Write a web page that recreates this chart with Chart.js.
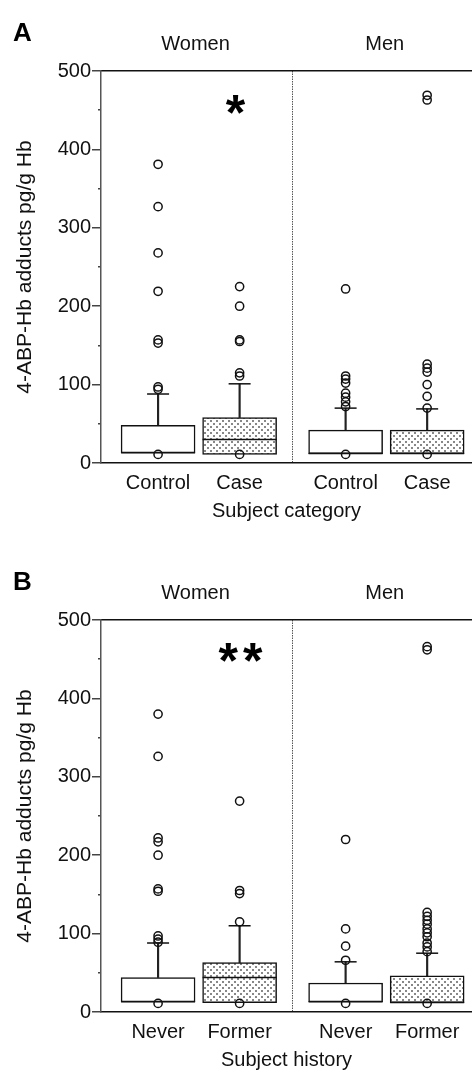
<!DOCTYPE html>
<html>
<head>
<meta charset="utf-8">
<script src="https://cdn.jsdelivr.net/npm/chart.js@4.4.1/dist/chart.umd.min.js"></script>
<style>
  html, body { margin: 0; padding: 0; background: #fff; overflow: hidden; }
  canvas { position: absolute; left: 0; }
  #chartA { top: 0; }
  #chartB { top: 549px; }
</style>
</head>
<body>
<canvas id="chartA" width="472" height="540"></canvas>
<canvas id="chartB" width="472" height="540"></canvas>
<script>
// labels
const sexGroups = ['Women', 'Men'];
const categoryLabels = ['Control', 'Case', 'Control', 'Case'];
const historyLabels = ['Never', 'Former', 'Never', 'Former'];
const yTicks = [0, 100, 200, 300, 400, 500];

// panel A - subject category (pg/g Hb)
const q1A = [13, 11, 12, 12];
const medianA = [13, 30, 12, 12];
const q3A = [48, 58, 42, 42];
const whiskerA = [88, 101, 70, 69];
const outliersA = [
  [381, 327, 268, 219, 157, 153, 97, 94, 11],
  [225, 200, 157, 155, 115, 111, 11],
  [222, 111, 107, 102, 89, 84, 78, 72, 11],
  [469, 463, 126, 121, 116, 100, 85, 70, 11]
];
const marksA = [{ text: '*', x: 1.98, y: 425 }];

// panel B - subject history (pg/g Hb)
const q1B = [13, 12, 13, 12];
const medianB = [13, 44, 13, 12];
const q3B = [44, 63, 37, 46];
const whiskerB = [88, 110, 64, 75];
const outliersB = [
  [380, 326, 222, 217, 200, 157, 154, 97, 93, 89, 11],
  [269, 155, 151, 115, 11],
  [220, 106, 84, 66, 11],
  [466, 462, 127, 122, 117, 112, 106, 101, 96, 88, 83, 77, 11]
];
const marksB = [{ text: '**', x: 2.04, y: 426 }];

// layout of the x axis (women | men)
const boxPos = [1, 2, 3.3, 4.3];
const groupPos = [1.46, 3.78];
const dividerX = 2.65;
const xMin = 0.3, xMax = 4.85;

Chart.defaults.font.family = '"Liberation Sans", Arial, sans-serif';
Chart.defaults.font.size = 20;
Chart.defaults.color = '#111';

const marksPlugin = {
  id: 'marks',
  afterDatasetsDraw(chart, args, opts) {
    const { ctx, scales: { x, y } } = chart;
    ctx.save();
    ctx.font = 'bold 50px "Liberation Sans", Arial, sans-serif';
    ctx.fillStyle = '#000';
    ctx.textAlign = 'center';
    ctx.textBaseline = 'alphabetic';
    ctx.letterSpacing = '5px';
    opts.items.forEach(m => ctx.fillText(m.text, x.getPixelForValue(m.x), y.getPixelForValue(m.y)));
    ctx.restore();
  }
};

function stipple(ctx) {
  const c = document.createElement('canvas');
  c.width = 6; c.height = 6;
  const g = c.getContext('2d');
  g.fillStyle = '#fff';
  g.fillRect(0, 0, 6, 6);
  g.fillStyle = '#888';
  g.fillRect(0, 0, 2, 2);
  g.fillRect(3, 3, 2, 2);
  return ctx.createPattern(c, 'repeat');
}

// keep chart area flush with the canvas edges
function noSidePad(s) {
  s.paddingLeft = 0;
  s.paddingRight = 0;
}

function makeChart(id, letter, labels, q1, med, q3, whisk, outliers, xTitle, marks) {
  const canvas = document.getElementById(id);
  const dots = stipple(canvas.getContext('2d'));
  const pts = [];
  outliers.forEach((list, i) => list.forEach(v => pts.push({ x: boxPos[i], y: v })));

  return new Chart(canvas, {
    type: 'bar',
    data: {
      datasets: [
        { type: 'scatter', data: pts, pointStyle: 'circle', radius: 4.1, borderWidth: 1.5,
          borderColor: '#111', backgroundColor: 'rgba(0,0,0,0)' },
        { type: 'scatter', data: med.map((v, i) => ({ x: boxPos[i], y: v })), pointStyle: 'line',
          radius: 37, borderWidth: 1.5, borderColor: '#111' },
        { type: 'scatter', data: whisk.map((v, i) => ({ x: boxPos[i], y: v })), pointStyle: 'line',
          radius: 11, borderWidth: 1.5, borderColor: '#111' },
        { data: q1.map((v, i) => ({ x: boxPos[i], y: [v, q3[i]] })),
          backgroundColor: labels.map((l, i) => i % 2 ? dots : '#fff'),
          borderColor: '#111', borderWidth: 1.5, borderSkipped: false, barThickness: 74, grouped: false },
        { data: q3.map((v, i) => ({ x: boxPos[i], y: [v, whisk[i]] })),
          backgroundColor: '#222', borderWidth: 0, barThickness: 1.5, grouped: false }
      ]
    },
    options: {
      responsive: false,
      animation: false,
      events: [],
      layout: { autoPadding: false, padding: { left: 13, top: 0, right: 0, bottom: 17 } },
      plugins: {
        legend: { display: false },
        tooltip: { enabled: false },
        title: { display: true, text: letter, align: 'start', color: '#000',
          font: { size: 26, weight: 'bold', lineHeight: 0.1 }, padding: { top: 32.2, bottom: 0 } },
        marks: { items: marks }
      },
      scales: {
        x: {
          type: 'linear', position: 'bottom', min: xMin, max: xMax, offset: false,
          afterBuildTicks: s => { s.ticks = boxPos.concat([dividerX]).map(v => ({ value: v })); },
          ticks: { autoSkip: false, maxRotation: 0, padding: 8,
            callback: v => { const i = boxPos.indexOf(v); return i < 0 ? '' : labels[i]; } },
          grid: { offset: false, drawTicks: false, lineWidth: 1,
            color: c => (c.tick && c.tick.value === dividerX) ? '#555' : 'rgba(0,0,0,0)' },
          border: { display: true, color: '#111', width: 1.5, dash: [1.5, 1] },
          title: { display: true, text: xTitle, padding: 0 },
          afterFit: s => { s.height = 60; noSidePad(s); }
        },
        top: {
          type: 'linear', position: 'top', min: xMin, max: xMax, offset: false,
          afterBuildTicks: s => { s.ticks = groupPos.map(v => ({ value: v })); },
          ticks: { autoSkip: false, maxRotation: 0, padding: 17, font: { size: 20, lineHeight: 1 },
            callback: v => sexGroups[groupPos.indexOf(v)] },
          grid: { display: false, drawTicks: false, offset: false },
          border: { display: true, color: '#111', width: 1.5 },
          afterFit: s => { s.height = 36.2; noSidePad(s); }
        },
        y: {
          min: 0, max: 500,
          ticks: { stepSize: 50, autoSkip: false, padding: 1,
            callback: v => yTicks.includes(v) ? String(v) : '' },
          grid: { drawOnChartArea: false, drawTicks: true, tickLength: 9, lineWidth: 1.5, color: '#444',
            tickBorderDash: c => (c.tick && c.tick.value % 100) ? [0, 6, 3, 10] : [] },
          border: { display: true, color: '#555', width: 1.5 },
          title: { display: true, text: '4-ABP-Hb adducts pg/g Hb', font: { size: 21 }, padding: 0 },
          afterFit: s => { s.width = 88; }
        }
      }
    },
    plugins: [marksPlugin]
  });
}

makeChart('chartA', 'A', categoryLabels, q1A, medianA, q3A, whiskerA, outliersA, 'Subject category', marksA);
makeChart('chartB', 'B', historyLabels, q1B, medianB, q3B, whiskerB, outliersB, 'Subject history', marksB);
</script>
</body>
</html>
